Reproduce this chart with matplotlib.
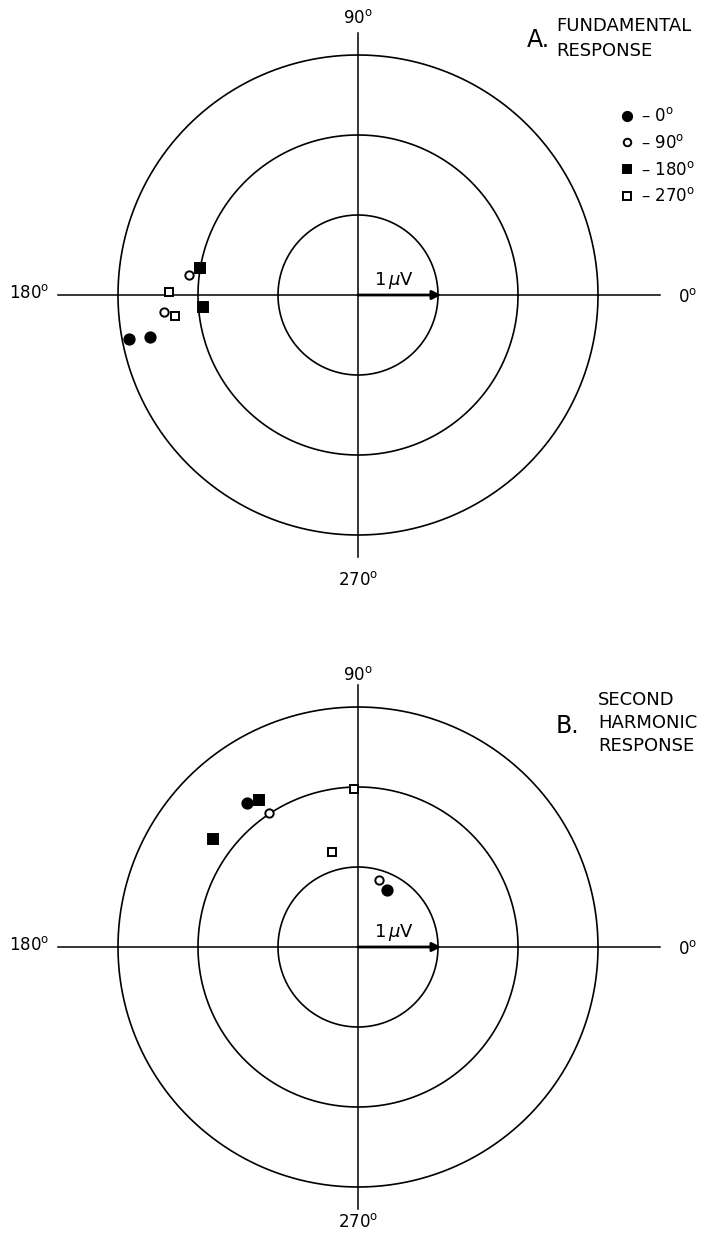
"""Polar response diagrams: fundamental and second harmonic (µV, phase)."""

import numpy as np
import matplotlib
matplotlib.use("Agg")
import matplotlib.pyplot as plt
from matplotlib.lines import Line2D

OUT = "out.png"

# ring radii in µV
RINGS = [1.0, 2.0, 3.0]

# stimulus phase groups: label, marker, filled?
GROUPS = ["0", "90", "180", "270"]
MARKERS = {"0": ("o", True), "90": ("o", False), "180": ("s", True), "270": ("s", False)}

# A. fundamental response: x (real) and y (imag) in µV
A_GROUP = ["180", "90", "270", "180", "90", "270", "0", "0"]
A_X = [-1.98, -2.11, -2.36, -1.94, -2.43, -2.29, -2.86, -2.60]
A_Y = [0.34, 0.25, 0.04, -0.15, -0.21, -0.26, -0.55, -0.53]

# B. second harmonic response
B_GROUP = ["0", "180", "90", "180", "270", "270", "90", "0"]
B_X = [-1.39, -1.24, -1.11, -1.81, -0.05, -0.33, 0.26, 0.36]
B_Y = [1.80, 1.84, 1.68, 1.35, 1.98, 1.19, 0.84, 0.71]

PX = 80.0  # pixels per µV
W, H = 704, 1233
CX = 358


def deg(s):
    return s + r"$^{\mathrm{o}}$"


def style(g):
    m, filled = MARKERS[g]
    ms = (7.4 if filled else 6.0) if m == "o" else (7.0 if filled else 6.2)
    return dict(marker=m, ms=ms, mfc="black" if filled else "white",
                mec="black", mew=1.4, ls="none")


def panel(fig, top, bottom, cy, xs, ys, groups, lab90, lab270):
    # axes spanning image rows top..bottom, centred at (CX, cy) px
    ax = fig.add_axes([0, 1 - bottom / H, 1, (bottom - top) / H])
    ax.set_xlim(-CX / PX, (W - CX) / PX)
    ax.set_ylim(-(bottom - cy) / PX, (cy - top) / PX)
    ax.set_aspect("equal")
    ax.axis("off")

    t = np.linspace(0, 2 * np.pi, 400)
    for r in RINGS:
        ax.plot(r * np.cos(t), r * np.sin(t), color="black", lw=1.2)
    ax.plot([-3.75, 3.78], [0, 0], color="black", lw=1.1)
    ax.plot([0, 0], [-3.28, 3.28], color="black", lw=1.1)

    ax.annotate("", xy=(1.04, 0), xytext=(0, 0),
                arrowprops=dict(arrowstyle="-|>", color="black", lw=2.0,
                                mutation_scale=13, shrinkA=0, shrinkB=0))
    ax.text(0.45, 0.05, r"$1\,\mu$V", fontsize=13, ha="center", va="bottom")

    ax.text(0, lab90, deg("90"), fontsize=12, ha="center", va="center")
    ax.text(0, lab270, deg("270"), fontsize=12, ha="center", va="center")
    ax.text(-3.86, 0.02, deg("180"), fontsize=12, ha="right", va="center")
    ax.text(4.0, -0.02, deg("0"), fontsize=12, ha="left", va="center")

    for x, y, g in zip(xs, ys, groups):
        ax.plot(x, y, **style(g))
    return ax


def main():
    fig = plt.figure(figsize=(W / 100, H / 100), dpi=100)
    fig.patch.set_facecolor("white")

    axA = panel(fig, 0, 600, 295, A_X, A_Y, A_GROUP, 3.46, -3.56)
    axB = panel(fig, 600, H, 947, B_X, B_Y, B_GROUP, 3.40, -3.44)

    # titles
    axA.text(2.11, 3.19, "A.", fontsize=17, ha="left", va="center")
    axA.text(2.48, 3.21, "FUNDAMENTAL\nRESPONSE", fontsize=13, ha="left",
             va="center", linespacing=1.5)
    axB.text(2.47, 2.76, "B.", fontsize=17, ha="left", va="center")
    axB.text(3.0, 2.80, "SECOND\nHARMONIC\nRESPONSE", fontsize=13, ha="left",
             va="center", linespacing=1.35)

    handles = []
    for g in GROUPS:
        s = style(g)
        s["ms"] *= 0.9
        handles.append(Line2D([], [], **s))
    axA.legend(handles, ["– " + deg(g) for g in GROUPS], loc="upper left",
               bbox_to_anchor=(614 / W, 1 - 99 / 600), frameon=False,
               handlelength=0.6, handletextpad=0.5, labelspacing=0.52,
               fontsize=12, borderpad=0)

    fig.savefig(OUT, dpi=100)


if __name__ == "__main__":
    main()
